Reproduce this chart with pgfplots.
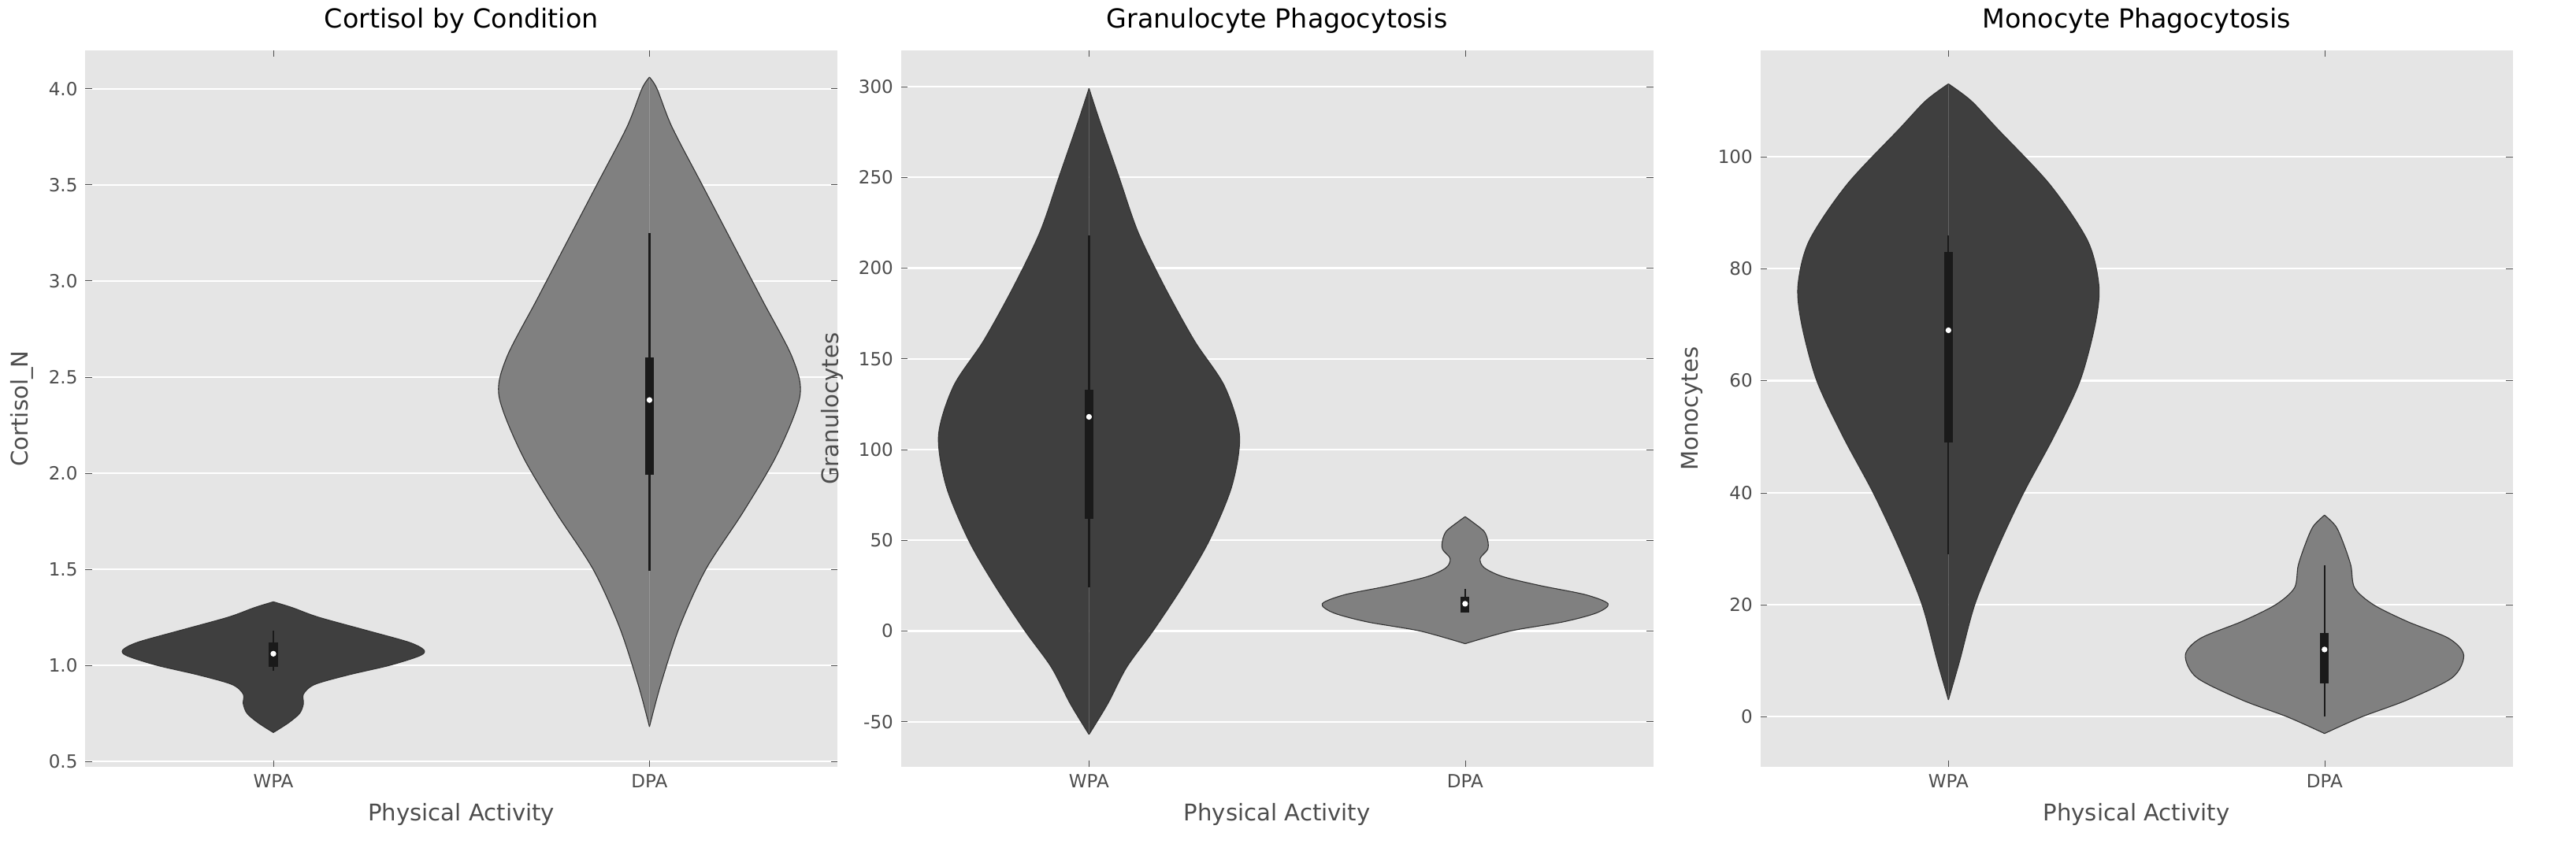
\documentclass[border=0pt]{standalone}
\usepackage{pgfplots}
\pgfplotsset{compat=1.18}
\usepackage{pgfplotstable}
\usepackage{fontspec}
\setmainfont{DejaVu Sans}
\definecolor{bg}{RGB}{229,229,229}
\definecolor{dk}{RGB}{63,63,63}
\definecolor{md}{RGB}{128,128,128}
\definecolor{tx}{RGB}{77,77,77}
\definecolor{bx}{RGB}{26,26,26}
\pgfplotstableread{
y w
0.65 0
0.70 0.04
0.75 0.07
0.80 0.08
0.85 0.08
0.90 0.11
0.95 0.2
1.00 0.31
1.05 0.39
1.08 0.40
1.12 0.36
1.18 0.25
1.25 0.12
1.30 0.05
1.33 0
}\cwpa
\pgfplotstableread{
y w
0.68 0
0.9 0.03
1.2 0.08
1.5 0.15
1.8 0.25
2.1 0.34
2.4 0.40
2.6 0.38
2.9 0.30
3.2 0.22
3.5 0.14
3.8 0.06
4.0 0.02
4.06 0
}\cdpa
\pgfplotstableread{
y w
-57 0
-40 0.05
-20 0.1
0 0.17
25 0.25
50 0.32
80 0.38
108 0.40
135 0.36
160 0.28
190 0.20
220 0.13
250 0.08
280 0.03
299 0
}\gwpa
\pgfplotstableread{
y w
-7 0
0 0.12
5 0.26
10 0.35
15 0.38
20 0.32
25 0.2
30 0.1
35 0.05
40 0.04
45 0.06
50 0.06
55 0.05
60 0.02
63 0
}\gdpa
\pgfplotstableread{
y w
3 0
10 0.03
20 0.07
30 0.13
40 0.2
50 0.28
60 0.35
70 0.39
77 0.40
85 0.37
95 0.27
105 0.13
110 0.06
113 0
}\mwpa
\pgfplotstableread{
y w
-3 0
0 0.1
3 0.22
7 0.34
11 0.37
14 0.33
17 0.22
20 0.13
23 0.08
27 0.07
31 0.05
34 0.03
36 0
}\mdpa
\newcommand\violin[3]{%
\addplot[fill=#3,draw=none,smooth] table[x expr=#2+\thisrow{w},y=y]{#1} -- cycle;
\addplot[fill=#3,draw=none,smooth] table[x expr=#2-\thisrow{w},y=y]{#1} -- cycle;
\addplot[black!80,line width=0.4pt,smooth] table[x expr=#2+\thisrow{w},y=y]{#1};
\addplot[black!80,line width=0.4pt,smooth] table[x expr=#2-\thisrow{w},y=y]{#1};}
\newcommand\vbx[5]{%
\addplot[bx,line width=0.8pt] coordinates {(#1,#2)(#1,#5)};
\addplot[bx,line width=4pt] coordinates {(#1,#3)(#1,#4)};}
\newcommand\vmed[2]{\addplot[only marks,mark=*,mark size=1.1pt,white] coordinates {(#1,#2)};}
\pgfplotsset{
  mystyle/.style={
    scale only axis, width=344pt, height=328pt, anchor=south west,
    axis background/.style={fill=bg},
    axis line style={draw=none},
    ymajorgrids, grid style={white,line width=0.8pt},
    xmin=-0.5, xmax=1.5, xtick={0,1}, xticklabels={WPA,DPA},
    tick style={tx}, major tick length=3pt,
    tick label style={font=\fontsize{8.3}{10}\selectfont, text=tx},
    label style={font=\fontsize{10.5}{12}\selectfont, text=tx},
    title style={font=\fontsize{12}{14}\selectfont, yshift=-2pt},
    xlabel={Physical Activity},
    /pgf/number format/assume math mode=true,
  }
}
\begin{document}
\begin{tikzpicture}
\path[fill=white] (0,0) rectangle (1178pt,386pt);
\begin{axis}[mystyle, at={(39pt,35pt)}, ymin=0.47, ymax=4.2,
  ytick={0.5,1,...,4}, yticklabel style={/pgf/number format/.cd,fixed,fixed zerofill,precision=1},
  ylabel={Cortisol\_N}, title={Cortisol by Condition}]
\violin{\cwpa}{0}{dk}
\violin{\cdpa}{1}{md}
\vbx{0}{0.97}{0.99}{1.12}{1.18}
\vbx{1}{1.49}{1.99}{2.6}{3.25}
\vmed{0}{1.06}
\vmed{1}{2.38}
\end{axis}
\begin{axis}[mystyle, at={(412pt,35pt)}, ymin=-75, ymax=320,
  ytick={-50,0,...,300}, ylabel={Granulocytes}, title={Granulocyte Phagocytosis}]
\violin{\gwpa}{0}{dk}
\violin{\gdpa}{1}{md}
\vbx{0}{24}{62}{133}{218}
\vbx{1}{10}{10}{19}{23}
\vmed{0}{118}
\vmed{1}{15}
\end{axis}
\begin{axis}[mystyle, at={(805pt,35pt)}, ymin=-9, ymax=119,
  ytick={0,20,...,100}, ylabel={Monocytes}, title={Monocyte Phagocytosis}]
\violin{\mwpa}{0}{dk}
\violin{\mdpa}{1}{md}
\vbx{0}{29}{49}{83}{86}
\vbx{1}{0}{6}{15}{27}
\vmed{0}{69}
\vmed{1}{12}
\end{axis}
\end{tikzpicture}
\end{document}
